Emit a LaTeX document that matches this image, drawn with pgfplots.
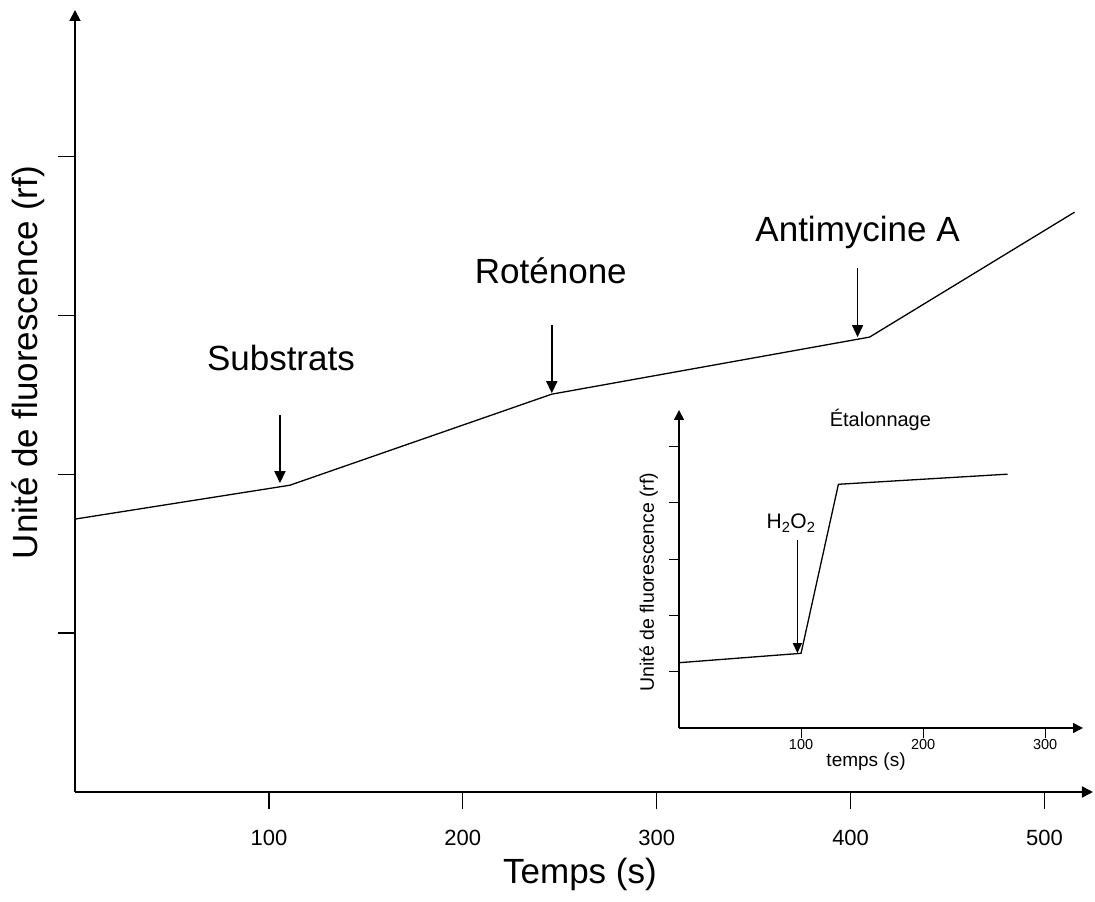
\documentclass[border=0pt]{standalone}
\usepackage{pgfplots}
\pgfplotsset{compat=1.18}
\usepackage{fontspec}
\setmainfont{Liberation Sans}
\usetikzlibrary{arrows.meta}
\begin{document}
\begin{tikzpicture}
\path[use as bounding box] (0,0) rectangle (1095bp,902bp);
\begin{axis}[
 at={(75bp,110bp)}, anchor=south west,
 scale only axis, width=1018bp, height=782bp,
 xmin=0, xmax=525, ymin=0, ymax=4.92,
 axis lines=left,
 axis line style={line width=1.8bp, -{Triangle[length=11bp,width=11bp]}},
 enlargelimits=false,
 tick align=outside, major tick length=17bp,
 tick style={line width=1.2bp, black},
 xtick={100,200,300,400,500}, ytick={1,2,3,4}, yticklabels={},
 ticklabel style={font=\fontsize{22bp}{26bp}\selectfont},
 xticklabel style={yshift=-18bp},
 /pgf/number format/assume math mode=true,
 xlabel={Temps (s)}, ylabel={Unité de fluorescence (rf)},
 label style={font=\fontsize{35bp}{40bp}\selectfont},
 xlabel style={at={(axis description cs:0.496,-0.106)}, anchor=center},
 ylabel style={at={(axis description cs:-0.046,0.549)}, anchor=center},
 clip=false,
]
\addplot[black, line width=1.3bp] coordinates {(0,1.717) (110.8,1.93) (245.9,2.503) (409.8,2.862) (515.5,3.648)};
\draw[line width=1.5bp, -{Triangle[length=12bp,width=11bp]}] (axis cs:105.7,2.371) -- (axis cs:105.7,1.943);
\draw[line width=1.5bp, -{Triangle[length=12bp,width=11bp]}] (axis cs:245.9,2.937) -- (axis cs:245.9,2.509);
\draw[line width=1.5bp, -{Triangle[length=12bp,width=11bp]}] (axis cs:403.6,3.296) -- (axis cs:403.6,2.862);
\node[font=\fontsize{35bp}{40bp}\selectfont] at (axis cs:106.2,2.73) {Substrats};
\node[font=\fontsize{35bp}{40bp}\selectfont] at (axis cs:245.4,3.28) {Roténone};
\node[font=\fontsize{35bp}{40bp}\selectfont] at (axis cs:403.6,3.52) {Antimycine A};
\end{axis}
\begin{axis}[
 at={(679bp,174bp)}, anchor=south west,
 scale only axis, width=404bp, height=318bp,
 xmin=0, xmax=331, ymin=0, ymax=5.65,
 axis lines=left,
 axis line style={line width=1.5bp, -{Triangle[length=10bp,width=10bp]}},
 enlargelimits=false,
 tick align=outside, major tick length=10bp,
 tick style={line width=1.1bp, black},
 xtick={100,200,300}, ytick={1,2,3,4,5}, yticklabels={},
 ticklabel style={font=\fontsize{14.5bp}{17bp}\selectfont},
 xticklabel style={yshift=2bp},
 /pgf/number format/assume math mode=true,
 xlabel={temps (s)}, ylabel={Unité de fluorescence (rf)},
 xlabel style={font=\fontsize{19bp}{22bp}\selectfont, at={(axis description cs:0.463,-0.107)}, anchor=center},
 ylabel style={font=\fontsize{19.5bp}{22bp}\selectfont, at={(axis description cs:-0.075,0.459)}, anchor=center},
 clip=false,
]
\addplot[black, line width=1.3bp] coordinates {(0,1.16) (100,1.327) (130.6,4.33) (269.3,4.51)};
\draw[line width=1.3bp, -{Triangle[length=10bp,width=9bp]}] (axis cs:97,3.34) -- (axis cs:97,1.33);
\node[font=\fontsize{21bp}{24bp}\selectfont] at (axis cs:91.8,3.64) {H\textsubscript{2}O\textsubscript{2}};
\node[font=\fontsize{20bp}{24bp}\selectfont] at (axis cs:165,5.47) {Étalonnage};
\end{axis}
\end{tikzpicture}
\end{document}
